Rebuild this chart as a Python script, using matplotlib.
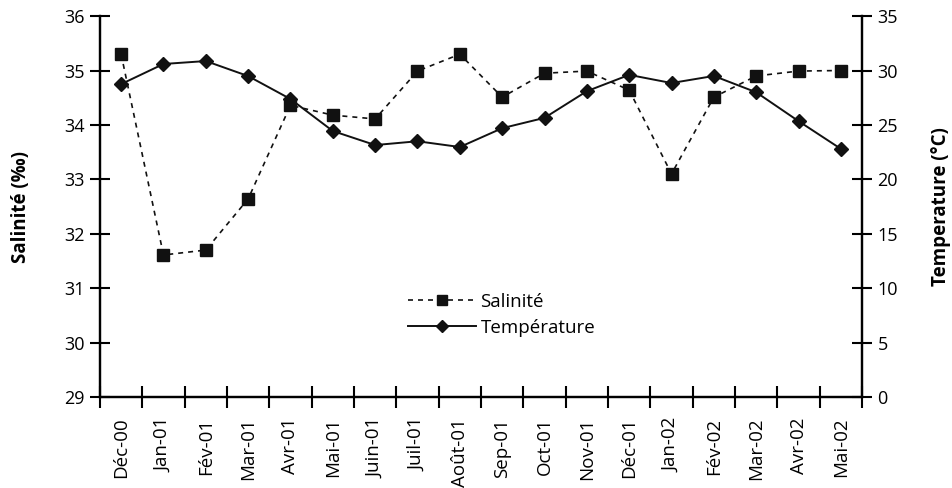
import matplotlib.pyplot as plt
import numpy as np

plt.rcParams['font.family'] = ['Open Sans', 'DejaVu Sans']

months = ['Déc-00', 'Jan-01', 'Fév-01', 'Mar-01', 'Avr-01', 'Mai-01', 'Juin-01', 'Juil-01',
          'Août-01', 'Sep-01', 'Oct-01', 'Nov-01', 'Déc-01', 'Jan-02', 'Fév-02', 'Mar-02',
          'Avr-02', 'Mai-02']
salinite = [35.30, 31.61, 31.70, 32.64, 34.36, 34.18, 34.11, 34.99, 35.30,
            34.51, 34.95, 34.99, 34.64, 33.10, 34.51, 34.90, 34.99, 35.00]
temperature = [28.75, 30.6, 30.87, 29.49, 27.38, 24.44, 23.15, 23.5, 22.97,
               24.7, 25.65, 28.1, 29.6, 28.85, 29.5, 28.0, 25.35, 22.8]

fig = plt.figure(figsize=(9.52, 4.88), dpi=100)
ax = fig.add_axes([0.105, 0.1865, 0.8005, 0.7805])
ax2 = ax.twinx()

x = np.arange(len(months))
l1, = ax.plot(x, salinite, color='#111111', linestyle=(0, (3, 3)), linewidth=1.2,
              marker='s', markersize=8, label='Salinité')
l2, = ax2.plot(x, temperature, color='#111111', linestyle='-', linewidth=1.4,
               marker='D', markersize=7, label='Température')

ax.set_xlim(-0.5, len(months) - 0.5)
ax.set_ylim(29, 36)
ax2.set_ylim(0, 35)
ax.set_yticks(range(29, 37))
ax2.set_yticks(range(0, 36, 5))

# ticks between categories, labels at the centres
ax.set_xticks(np.arange(-0.5, len(months)), [''] * (len(months) + 1))
ax.set_xticks(x, months, minor=True, rotation=90)
ax.tick_params(axis='x', which='minor', length=0, pad=15, labelsize=13.5)
ax.tick_params(axis='x', which='major', direction='inout', length=16, width=1.5)
ax.tick_params(axis='y', direction='inout', length=14, width=1.5, labelsize=13, pad=4)
ax2.tick_params(axis='y', direction='inout', length=14, width=1.5, labelsize=13, pad=4)

for a in (ax, ax2):
    a.spines['top'].set_visible(False)
    for s in ('left', 'right', 'bottom'):
        a.spines[s].set_linewidth(1.6)

ax.set_ylabel('Salinité (‰)', fontweight='bold', fontsize=13.5, labelpad=24)
ax2.set_ylabel('Temperature (°C)', fontweight='bold', fontsize=13.5, labelpad=24)

fig.legend(handles=[l1, l2], loc='center', bbox_to_anchor=(0.527, 0.355), frameon=False,
           fontsize=13.5, handlelength=3.6, handletextpad=0.25, labelspacing=0.45,
           markerscale=0.9)

plt.savefig('out.png', format='png')
